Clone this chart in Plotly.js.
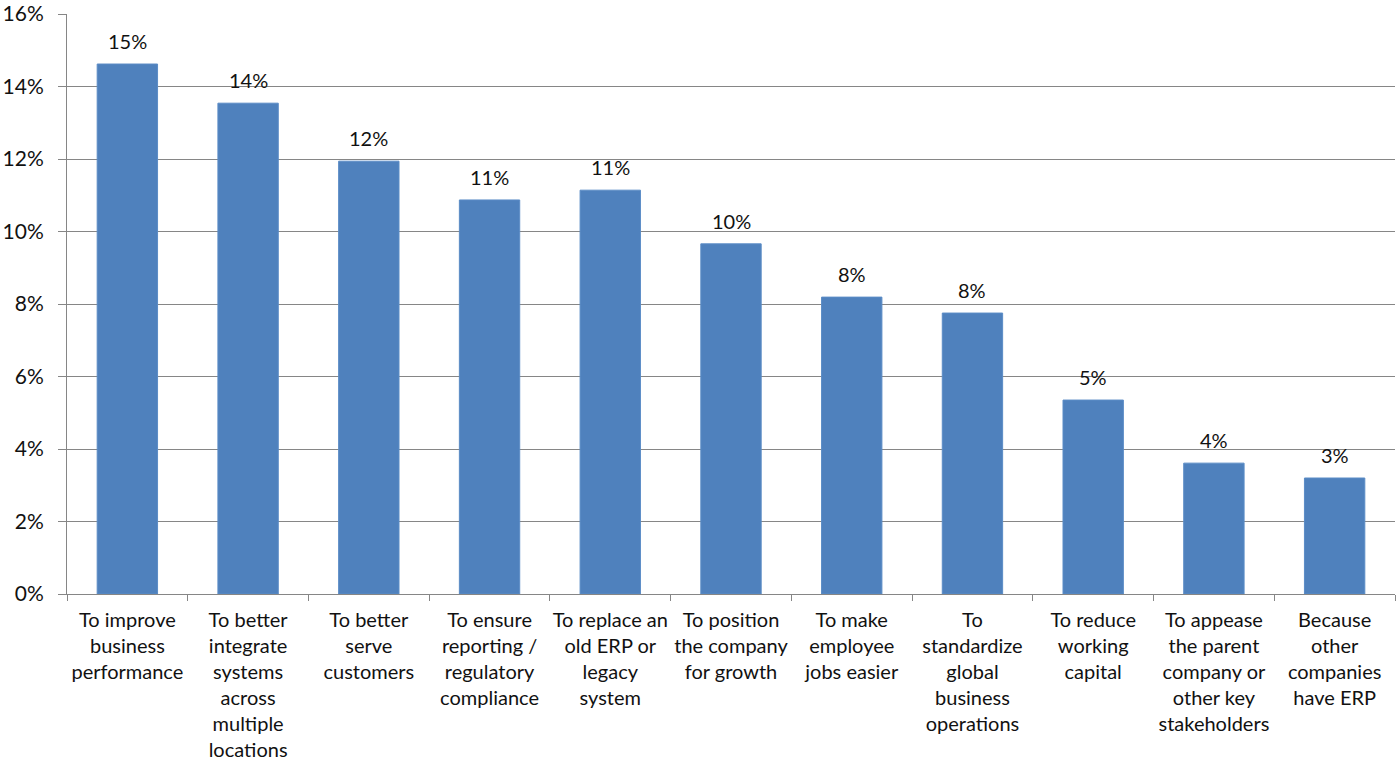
<!DOCTYPE html>
<html>
<head>
<meta charset="utf-8">
<script src="https://cdn.plot.ly/plotly-3.0.1.min.js"></script>
<style>html,body{margin:0;padding:0;background:#fff;}#chart{width:1396px;height:761px;}</style>
</head>
<body>
<div id="chart"></div>
<script>
const categories = [
  "To improve<br>business<br>performance",
  "To better<br>integrate<br>systems<br>across<br>multiple<br>locations",
  "To better<br>serve<br>customers",
  "To ensure<br>reporting /<br>regulatory<br>compliance",
  "To replace an<br>old ERP or<br>legacy<br>system",
  "To position<br>the company<br>for growth",
  "To make<br>employee<br>jobs easier",
  "To<br>standardize<br>global<br>business<br>operations",
  "To reduce<br>working<br>capital",
  "To appease<br>the parent<br>company or<br>other key<br>stakeholders",
  "Because<br>other<br>companies<br>have ERP"
];
const values = [14.62, 13.54, 11.94, 10.87, 11.14, 9.66, 8.19, 7.75, 5.35, 3.61, 3.20];
const yTickValues = [0, 2, 4, 6, 8, 10, 12, 14, 16];
const yTickLabels = ["0%", "2%", "4%", "6%", "8%", "10%", "12%", "14%", "16%"];

const FONT = "Lato, 'Open Sans', sans-serif";
const labels = values.map(v => Math.round(v) + "%");

const trace = {
  type: "bar",
  x: categories,
  y: values,
  marker: {color: "#4F81BD", line: {color: "#5B8CC6", width: 1}},
  hoverinfo: "none"
};

const annotations = values.map((v, i) => ({
  x: categories[i], y: v, xref: "x", yref: "y",
  text: labels[i], showarrow: false,
  yanchor: "bottom", yshift: 9,
  font: {family: FONT, size: 20, color: "#111"}
}));

const layout = {
  width: 1396, height: 761,
  margin: {l: 67, r: 1, t: 14, b: 167},
  paper_bgcolor: "#fff", plot_bgcolor: "#fff",
  bargap: 0.5,
  showlegend: false,
  font: {family: FONT, size: 20, color: "#111"},
  xaxis: {
    type: "category",
    tickson: "boundaries",
    ticks: "outside", ticklen: 6, tickcolor: "#868686", tickwidth: 1,
    showline: true, linecolor: "#868686", linewidth: 1,
    showgrid: false, zeroline: false,
    tickangle: 0,
    ticklabelstandoff: 8,
    tickfont: {family: FONT, size: 20, color: "#111"},
    automargin: false,
    fixedrange: true
  },
  yaxis: {
    range: [0, 16],
    tickvals: yTickValues, ticktext: yTickLabels,
    ticks: "outside", ticklen: 8, tickcolor: "#868686", tickwidth: 1,
    showline: true, linecolor: "#868686", linewidth: 1,
    showgrid: true, gridcolor: "#868686", gridwidth: 1,
    zeroline: false,
    ticklabelstandoff: 10,
    tickfont: {family: FONT, size: 21, color: "#111"},
    automargin: false,
    fixedrange: true
  },
  annotations: annotations
};

Plotly.newPlot("chart", [trace], layout, {staticPlot: true, displayModeBar: false});
</script>
</body>
</html>
